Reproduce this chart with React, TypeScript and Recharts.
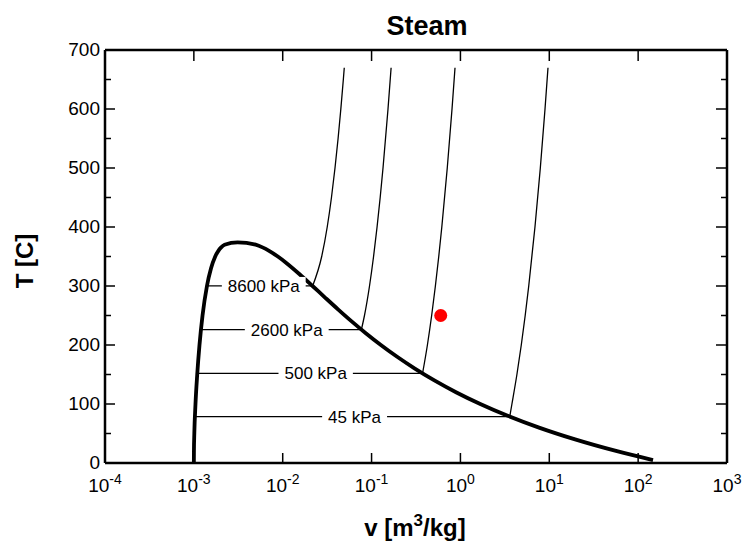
import React from 'react';
import { ComposedChart, Line, Scatter, XAxis, YAxis, Label } from 'recharts';

const FONT = '"Liberation Sans", Arial, Helvetica, sans-serif';

// Saturation dome: liquid branch (T rising) then vapour branch (T falling)
const liquidT = [1, 20, 50, 100, 150, 200, 250, 300, 330, 350, 360, 365, 370, 373.95];
const liquidV = [0.001, 0.001002, 0.001012, 0.001043, 0.001091, 0.001157, 0.001252, 0.001404, 0.001561, 0.00174, 0.001895, 0.002015, 0.002217, 0.003106];
const vaporT = [370, 365, 360, 350, 340, 320, 300, 280, 260, 240, 220, 200, 180, 160, 140, 120, 100, 80, 60, 40, 20, 5];
const vaporV = [0.004953, 0.006009, 0.00695, 0.008813, 0.0108, 0.01549, 0.02167, 0.03017, 0.0422, 0.0597, 0.08609, 0.1272, 0.1939, 0.3071, 0.5089, 0.8915, 1.672, 3.405, 7.667, 19.52, 57.76, 147.0];

// Isobars
const isobarNames = ['8600 kPa', '2600 kPa', '500 kPa', '45 kPa'];
const satT = [300.1, 226.0, 151.8, 78.7];
const satVf = [0.001404, 0.001201, 0.001093, 0.001029];
const satVg = [0.0217, 0.0768, 0.3748, 3.59];
const labelV = [0.00612, 0.0111, 0.0235, 0.0644];

const superT8600 = [300.1, 350, 400, 450, 500, 550, 600, 650, 670];
const superV8600 = [0.0217, 0.02746, 0.03169, 0.03537, 0.03876, 0.04199, 0.04509, 0.04811, 0.0493];
const superT2600 = [226.0, 250, 300, 350, 400, 450, 500, 600, 670];
const superV2600 = [0.0768, 0.0832, 0.0948, 0.1053, 0.1153, 0.125, 0.1345, 0.1531, 0.1659];
const superT500 = [151.8, 200, 250, 300, 350, 400, 500, 600, 670];
const superV500 = [0.3748, 0.425, 0.4744, 0.5226, 0.5702, 0.6173, 0.7109, 0.8041, 0.8691];
const superT45 = [78.7, 100, 150, 200, 250, 300, 400, 500, 600, 670];
const superV45 = [3.59, 3.798, 4.321, 4.84, 5.357, 5.871, 6.899, 7.927, 8.952, 9.67];

// State point
const stateV = [0.6];
const stateT = [250];

// Axes
const xTicks = [1e-4, 1e-3, 1e-2, 1e-1, 1e0, 1e1, 1e2, 1e3];
const xTickExp = ['-4', '-3', '-2', '-1', '0', '1', '2', '3'];
const yTicks = [0, 50, 100, 150, 200, 250, 300, 350, 400, 450, 500, 550, 600, 650, 700];
const yTickLabels = ['0', '', '100', '', '200', '', '300', '', '400', '', '500', '', '600', '', '700'];

const domePts = [
  ...liquidT.map((T, i) => ({ v: liquidV[i], T })),
  ...vaporT.map((T, i) => ({ v: vaporV[i], T })),
];
const zip = (vs: number[], ts: number[]) => ts.map((T, i) => ({ v: vs[i], T }));
const superLines = [
  zip(superV8600, superT8600),
  zip(superV2600, superT2600),
  zip(superV500, superT500),
  zip(superV45, superT45),
];
const flatLines = satT.map((T, i) => [
  { v: satVf[i], T },
  { v: satVg[i], T },
]);
const labelPts = satT.map((T, i) => ({ v: labelV[i], T, name: isobarNames[i] }));
const statePts = stateV.map((v, i) => ({ v, T: stateT[i] }));

const charW: Record<string, number> = { ' ': 0.278, k: 0.5, P: 0.667, a: 0.556 };
const textWidth = (s: string, fs: number) =>
  s.split('').reduce((acc, c) => acc + (charW[c] ?? 0.556), 0) * fs;

const XTick = (props: any) => {
  const { x, y, index } = props;
  return (
    <g>
      <line x1={x} y1={y} x2={x} y2={y - 10} stroke="#000" strokeWidth={1.5} />
      <text x={x} y={y + 29} textAnchor="middle" fontFamily={FONT} fontSize={19} fill="#000">
        <tspan>10</tspan>
        <tspan dy={-8} fontSize={14}>{xTickExp[index]}</tspan>
      </text>
    </g>
  );
};

const TopTick = (props: any) => {
  const { x, y } = props;
  return <line x1={x} y1={y} x2={x} y2={y + 11} stroke="#000" strokeWidth={1.5} />;
};

const YTick = (props: any) => {
  const { x, y, index } = props;
  const lab = yTickLabels[index];
  const major = lab !== '';
  return (
    <g>
      <line x1={x} y1={y} x2={x + (major ? 10 : 6)} y2={y} stroke="#000" strokeWidth={1.5} />
      {major && (
        <text x={x - 5} y={y + 6} textAnchor="end" fontFamily={FONT} fontSize={19} fill="#000">
          {lab}
        </text>
      )}
    </g>
  );
};

const RightTick = (props: any) => {
  const { x, y, index } = props;
  const major = yTickLabels[index] !== '';
  return <line x1={x} y1={y} x2={x - (major ? 11 : 6)} y2={y} stroke="#000" strokeWidth={1.5} />;
};

const IsobarLabel = (props: any) => {
  const { cx, cy, payload } = props;
  const fs = 17;
  const w = textWidth(payload.name, fs) + 12;
  return (
    <g>
      <rect x={cx - w / 2} y={cy - 9} width={w} height={18} fill="#fff" />
      <text x={cx} y={cy + 6} textAnchor="middle" fontFamily={FONT} fontSize={fs} fill="#000">
        {payload.name}
      </text>
    </g>
  );
};

const StateDot = (props: any) => {
  const { cx, cy } = props;
  return <circle cx={cx} cy={cy} r={6.5} fill="#ff0000" />;
};

export default function App() {
  return (
    <div style={{ position: 'absolute', left: 0, top: 0, background: '#fff' }}>
      <ComposedChart width={743} height={544} margin={{ top: 49, right: 15, bottom: 41, left: 45 }}>
        <XAxis
          xAxisId={0}
          dataKey="v"
          type="number"
          scale="log"
          domain={[1e-4, 1e3]}
          ticks={xTicks}
          interval={0}
          allowDataOverflow
          height={40}
          tickSize={0}
          tickMargin={0}
          tickLine={false}
          tick={<XTick />}
          axisLine={{ stroke: '#000', strokeWidth: 2.5 }}
        >
          <Label
            content={() => (
              <text x={415} y={536} textAnchor="middle" fontFamily={FONT} fontSize={24} fontWeight="bold" fill="#000">
                <tspan>v [m</tspan>
                <tspan dy={-10} fontSize={17}>3</tspan>
                <tspan dy={10}>/kg]</tspan>
              </text>
            )}
          />
        </XAxis>
        <XAxis
          xAxisId="top"
          orientation="top"
          dataKey="v"
          type="number"
          scale="log"
          domain={[1e-4, 1e3]}
          ticks={xTicks}
          interval={0}
          allowDataOverflow
          height={1}
          tickSize={0}
          tickMargin={0}
          tickLine={false}
          tick={<TopTick />}
          axisLine={{ stroke: '#000', strokeWidth: 2.5 }}
        >
          <Label
            content={() => (
              <text x={427} y={35} textAnchor="middle" fontFamily={FONT} fontSize={27} fontWeight="bold" fill="#000">
                Steam
              </text>
            )}
          />
        </XAxis>
        <YAxis
          yAxisId={0}
          dataKey="T"
          type="number"
          domain={[0, 700]}
          ticks={yTicks}
          interval={0}
          allowDataOverflow
          width={60}
          tickSize={0}
          tickMargin={0}
          tickLine={false}
          tick={<YTick />}
          axisLine={{ stroke: '#000', strokeWidth: 2.5 }}
        >
          <Label
            content={() => (
              <text
                x={33}
                y={261}
                transform="rotate(-90, 33, 261)"
                textAnchor="middle"
                fontFamily={FONT}
                fontSize={24}
                fontWeight="bold"
                fill="#000"
              >
                T [C]
              </text>
            )}
          />
        </YAxis>
        <YAxis
          yAxisId="right"
          orientation="right"
          dataKey="T"
          type="number"
          domain={[0, 700]}
          ticks={yTicks}
          interval={0}
          allowDataOverflow
          width={1}
          tickSize={0}
          tickMargin={0}
          tickLine={false}
          tick={<RightTick />}
          axisLine={{ stroke: '#000', strokeWidth: 2.5 }}
        />

        {/* invisible series that registers the top / right frame axes */}
        <Line
          xAxisId="top"
          yAxisId="right"
          data={domePts}
          dataKey="T"
          type="linear"
          stroke="none"
          strokeWidth={0}
          dot={false}
          activeDot={false}
          legendType="none"
          isAnimationActive={false}
        />

        {flatLines.map((pts, i) => (
          <Line
            key={'flat' + i}
            data={pts}
            dataKey="T"
            type="linear"
            stroke="#000"
            strokeWidth={1.3}
            dot={false}
            activeDot={false}
            isAnimationActive={false}
          />
        ))}
        <Scatter data={labelPts} dataKey="T" shape={<IsobarLabel />} isAnimationActive={false} />
        {superLines.map((pts, i) => (
          <Line
            key={'sup' + i}
            data={pts}
            dataKey="T"
            type="monotone"
            stroke="#000"
            strokeWidth={1.3}
            dot={false}
            activeDot={false}
            isAnimationActive={false}
          />
        ))}
        <Line
          data={domePts}
          dataKey="T"
          type="monotone"
          stroke="#000"
          strokeWidth={3.8}
          dot={false}
          activeDot={false}
          isAnimationActive={false}
        />
        <Scatter data={statePts} dataKey="T" shape={<StateDot />} isAnimationActive={false} />
      </ComposedChart>
    </div>
  );
}
